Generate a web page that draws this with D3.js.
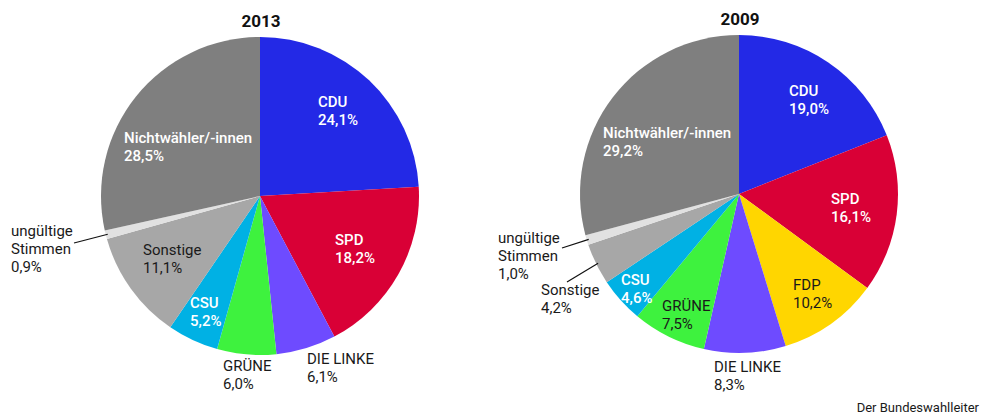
<!DOCTYPE html>
<html>
<head>
<meta charset="utf-8">
<script src="https://cdn.jsdelivr.net/npm/d3@7"></script>
<style>
  html, body { margin: 0; padding: 0; background: #fff; }
  svg { display: block; font-family: Roboto, "Noto Sans", sans-serif; }
</style>
</head>
<body>
<svg id="chart" width="981" height="416"></svg>
<script>
// ---- data ----
const years = ["2013", "2009"];
const parties2013 = ["CDU", "SPD", "DIE LINKE", "GRÜNE", "CSU", "Sonstige", "ungültige Stimmen", "Nichtwähler/-innen"];
const values2013 = [24.1, 18.2, 6.1, 6.0, 5.2, 11.1, 0.9, 28.5];
const parties2009 = ["CDU", "SPD", "FDP", "DIE LINKE", "GRÜNE", "CSU", "Sonstige", "ungültige Stimmen", "Nichtwähler/-innen"];
const values2009 = [19.0, 16.1, 10.2, 8.3, 7.5, 4.6, 4.2, 1.0, 29.2];
const sourceText = "Der Bundeswahlleiter";

// ---- styles ----
const colors = {
  "CDU": "#2329e6", "SPD": "#d90036", "FDP": "#ffd600", "DIE LINKE": "#6e4bff",
  "GRÜNE": "#3ef23e", "CSU": "#00b1e4", "Sonstige": "#a7a7a7",
  "ungültige Stimmen": "#e1e1e1", "Nichtwähler/-innen": "#7f7f7f"
};
const whiteText = new Set(["CDU", "SPD", "CSU", "Nichtwähler/-innen"]);

// ---- layout ----
const radius = 159;
const charts = [
  { year: years[0], names: parties2013, values: values2013, cx: 260, cy: 196,
    labels: {
      "CDU": [58, -89], "SPD": [75, 49], "DIE LINKE": [47, 168], "GRÜNE": [-37, 175],
      "CSU": [-70, 112], "Sonstige": [-117, 59], "ungültige Stimmen": [-249, 40],
      "Nichtwähler/-innen": [-136, -53]
    },
    leaders: { "ungültige Stimmen": [-186, 47] }
  },
  { year: years[1], names: parties2009, values: values2009, cx: 739, cy: 194,
    labels: {
      "CDU": [50, -98], "SPD": [92, 10], "FDP": [54, 96], "DIE LINKE": [-25, 178],
      "GRÜNE": [-77, 117], "CSU": [-118, 91], "Sonstige": [-198, 101],
      "ungültige Stimmen": [-241, 49], "Nichtwähler/-innen": [-136, -56]
    },
    leaders: { "ungültige Stimmen": [-177, 54], "Sonstige": [-172, 88] }
  }
];

const fmt = v => d3.format(".1f")(v).replace(".", ",") + "%";
const svg = d3.select("#chart");
const pie = d3.pie().sort(null).value(d => d.value);
const arc = d3.arc().innerRadius(0).outerRadius(radius);
const lineH = 18;

charts.forEach(c => {
  const data = c.names.map((n, i) => ({ name: n, value: c.values[i] }));
  const g = svg.append("g").attr("transform", `translate(${c.cx},${c.cy})`);
  const arcs = pie(data);

  g.selectAll("path.slice").data(arcs).join("path")
    .attr("class", "slice")
    .attr("d", arc)
    .attr("fill", d => colors[d.data.name]);

  // title
  g.append("text")
    .attr("x", 1).attr("y", -radius - 10)
    .attr("text-anchor", "middle")
    .attr("font-size", 17).attr("font-weight", 700).attr("fill", "#111")
    .text(c.year);

  // leader lines
  arcs.forEach(d => {
    const lp = c.leaders[d.data.name];
    if (!lp) return;
    const mid = (d.startAngle + d.endAngle) / 2;
    const r = radius - 2;
    g.append("line")
      .attr("x1", lp[0]).attr("y1", lp[1])
      .attr("x2", Math.sin(mid) * r).attr("y2", -Math.cos(mid) * r)
      .attr("stroke", "#111").attr("stroke-width", 1.2);
  });

  // labels
  arcs.forEach(d => {
    const p = c.labels[d.data.name];
    const isWhite = whiteText.has(d.data.name);
    const lines = d.data.name === "ungültige Stimmen"
      ? ["ungültige", "Stimmen", fmt(d.data.value)]
      : [d.data.name, fmt(d.data.value)];
    const t = g.append("text")
      .attr("x", p[0]).attr("y", p[1])
      .attr("font-size", 15)
      .attr("font-weight", isWhite ? 500 : 400)
      .attr("fill", isWhite ? "#ffffff" : "#1a1a1a");
    lines.forEach((l, i) => {
      t.append("tspan").attr("x", p[0]).attr("dy", i === 0 ? 0 : lineH).text(l);
    });
  });
});

svg.append("text")
  .attr("x", 979).attr("y", 412)
  .attr("text-anchor", "end")
  .attr("font-size", 13).attr("fill", "#1a1a1a")
  .text(sourceText);
</script>
</body>
</html>
